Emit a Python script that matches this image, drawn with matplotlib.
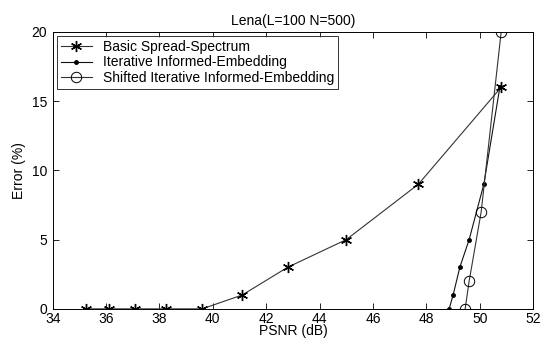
import numpy as np
from matplotlib import pyplot as plt

plt.rcParams['font.family'] = ['Liberation Sans', 'DejaVu Sans']

# Basic Spread-Spectrum
psnr_basic = [35.25, 36.1, 37.1, 38.25, 39.6, 41.1, 42.8, 45.0, 47.7, 50.8]
err_basic = [0, 0, 0, 0, 0, 1, 3, 5, 9, 16]

# Iterative Informed-Embedding
psnr_iter = [48.85, 49.0, 49.25, 49.6, 50.15, 50.75]
err_iter = [0, 1, 3, 5, 9, 16]

# Shifted Iterative Informed-Embedding
psnr_shift = [49.45, 49.6, 50.05, 50.8]
err_shift = [0, 2, 7, 20]

xticks = [34, 36, 38, 40, 42, 44, 46, 48, 50, 52]
yticks = [0, 5, 10, 15, 20]

fig = plt.figure(figsize=(5.43, 3.49), dpi=100)
ax = fig.add_axes([0.097, 0.115, 0.885, 0.794])

ax.plot(psnr_basic, err_basic, color='#333333', lw=0.8, marker=(6, 2, 0),
        ms=8, mec='black', mew=1.0, label='Basic Spread-Spectrum')
ax.plot(psnr_iter, err_iter, color='#111111', lw=0.8, marker='.',
        ms=5, mec='black', mfc='black', label='Iterative Informed-Embedding')
ax.plot(psnr_shift, err_shift, color='#333333', lw=0.8, marker='o',
        ms=7.5, mec='black', mfc='none', mew=0.7,
        label='Shifted Iterative Informed-Embedding')

ax.set_xlim(34, 52)
ax.set_ylim(0, 20)
ax.set_xticks(xticks)
ax.set_yticks(yticks)
ax.tick_params(direction='in', top=True, right=True, labelsize=10,
               length=4, width=0.6, pad=2)
ax.tick_params(axis='y', pad=4)
for s in ax.spines.values():
    s.set_linewidth(0.7)

ax.set_xlabel('PSNR (dB)', fontsize=10, labelpad=-1)
ax.set_ylabel('Error (%)', fontsize=10, labelpad=4)
ax.set_title('Lena(L=100 N=500)', fontsize=10, pad=5)

leg = ax.legend(loc='upper left', fontsize=10, frameon=True, fancybox=False,
                edgecolor='black', borderpad=0.3, labelspacing=0.1,
                handlelength=2.2, handletextpad=0.8, borderaxespad=0.3)
leg.get_frame().set_linewidth(0.7)

fig.savefig('out.png', dpi=100)
